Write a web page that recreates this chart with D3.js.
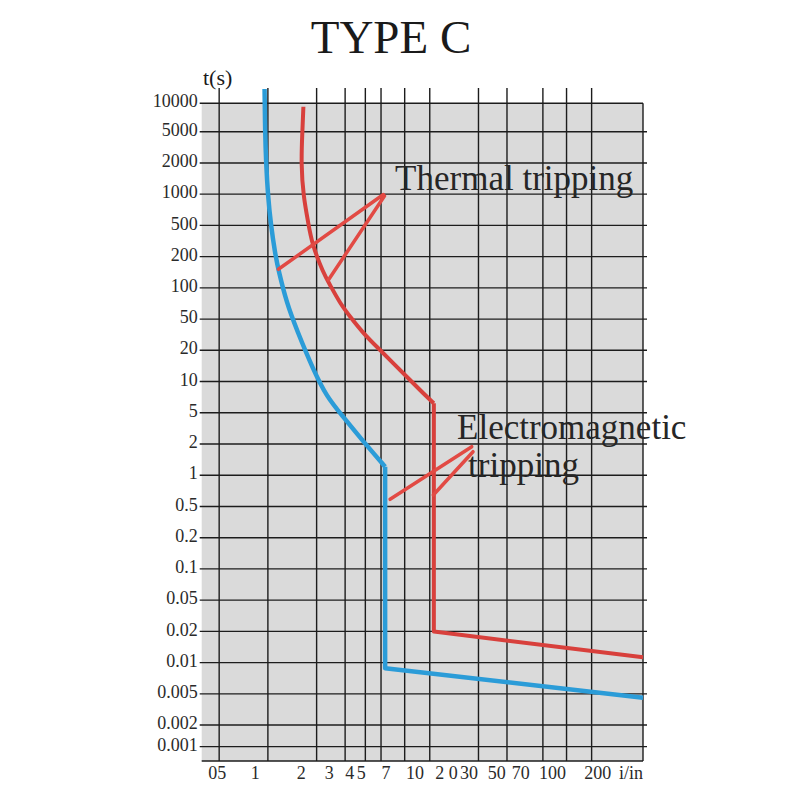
<!DOCTYPE html>
<html><head><meta charset="utf-8">
<script src="https://cdn.jsdelivr.net/npm/d3@7"></script>
<style>
body{margin:0;background:#fff}
text{font-family:"Liberation Serif","Times New Roman",serif}
</style>
</head><body>
<svg id="c" width="800" height="800"></svg>
<script>
// ---------- data ----------
const title = "TYPE C";
const yAxisTitle = "t(s)";
const yTickValues = [10000,5000,2000,1000,500,200,100,50,20,10,5,2,1,0.5,0.2,0.1,0.05,0.02,0.01,0.005,0.002,0.001];
const yTickLabels = ["10000","5000","2000","1000","500","200","100","50","20","10","5","2","1","0.5","0.2","0.1","0.05","0.02","0.01","0.005","0.002","0.001"];
const xGridValues = [0.5,1,2,3,4,5,7,10,20,30,50,70,100];
const xTickLabels = ["05","1","2","3","4","5","7","10","2 0","30","50","70","100","200","i/in"];
// where each printed label sits along the I/In axis
const xTickLabelAt = [0.487,0.834,1.61,2.39,3.2,3.78,5.36,8.11,12.7,17.5,25.9,36.5,57.4,109,175];
const xDomain = [0.39, 207.7];

// lower (blue) curve: I/In and t(s)
const blueThermalI = [0.954,0.961,0.975,1.0,1.042,1.108,1.161,1.308,1.509,1.91,2.311,2.859,3.89,5.3];
const blueThermalT = [14180,5000,1984,981,512,220,148.6,71,36.3,12.9,7.14,4.68,2.14,1.209];
const blueMagI = [5.3,5.3,207.7];
const blueMagT = [1.209,0.00882,0.00447];

// upper (red) curve
const redThermalI = [1.657,1.633,1.603,1.657,1.779,1.867,2.202,2.423,2.792,3.22,3.89,4.706,5.96,7.554,9.58,10.6];
const redThermalT = [9200,5000,1984,945,524,296,138,106.5,71,52.7,32.9,22.2,15,10.35,7.14,6.17];
const redMagI = [10.6,10.6,207.7];
const redMagT = [6.17,0.0199,0.01125];

// annotation pointers [I1,t1,I2,t2]
const thermalPointers = [[5.17,992,1.161,151],[5.25,960,2.364,119]];
const magPointers = [[18.17,1.884,5.687,0.586],[18.51,1.686,10.52,0.645]];
const thermalLabel = {text:"Thermal tripping", I:6.11, t:1097};
const magLabel1 = {text:"Electromagnetic", I:14.75, t:2.296};
const magLabel2 = {text:"tripping", I:17.25, t:0.961};

// ---------- layout ----------
const plotLeft = 201.7, plotRight = 643;
const yTop = 103.3, yFirstGap = 28.4, yStep = 31.23, yLastGap = 21.6, yBottom = 761;
const gridTop = 88;
const blue = "#2b9cd8", red = "#d8403c", redPtr = "#e24a44", ink = "#1c1c1c";

const svg = d3.select("#c");

const x = d3.scaleLog().domain(xDomain).range([plotLeft, plotRight]);
const n = yTickValues.length;
const yRange = yTickValues.map((d,i) => i === 0 ? yTop
  : i === n-1 ? yTop + yFirstGap + (n-3)*yStep + yLastGap
  : yTop + yFirstGap + (i-1)*yStep);
const yLin = d3.scaleLinear().domain(yTickValues.map(Math.log10)).range(yRange);
const y = t => yLin(Math.log10(t));

// plot background
svg.append("rect").attr("x", plotLeft).attr("y", yTop)
  .attr("width", plotRight - plotLeft).attr("height", yBottom - yTop)
  .attr("fill", "#dadada");

// vertical grid lines
svg.append("g").selectAll("line").data(xGridValues).join("line")
  .attr("x1", d => x(d)).attr("x2", d => x(d))
  .attr("y1", gridTop).attr("y2", yBottom)
  .attr("stroke", ink).attr("stroke-width", 1.4);

// horizontal grid lines
svg.append("g").selectAll("line").data(yTickValues).join("line")
  .attr("x1", plotLeft - 2).attr("x2", (d,i) => i === 0 ? plotRight : plotRight + 4)
  .attr("y1", d => y(d)).attr("y2", d => y(d))
  .attr("stroke", ink).attr("stroke-width", 1.4);

// right and bottom edges
svg.append("line").attr("x1", plotRight).attr("x2", plotRight).attr("y1", yTop).attr("y2", yBottom)
  .attr("stroke", ink).attr("stroke-width", 1.4);
svg.append("line").attr("x1", plotLeft).attr("x2", plotRight).attr("y1", yBottom).attr("y2", yBottom)
  .attr("stroke", ink).attr("stroke-width", 1.4);

// y tick labels
svg.append("g").selectAll("text").data(yTickValues).join("text")
  .attr("x", plotLeft - 4).attr("y", d => y(d))
  .attr("text-anchor", "end").attr("dominant-baseline", "middle")
  .attr("font-size", 18).attr("fill", "#2a2a2a")
  .text((d,i) => yTickLabels[i]);

// x tick labels
svg.append("g").selectAll("text").data(xTickLabels).join("text")
  .attr("x", (d,i) => x(xTickLabelAt[i])).attr("y", yBottom + 18)
  .attr("text-anchor", "middle")
  .attr("font-size", 18).attr("fill", "#2a2a2a")
  .text(d => d);

// titles
svg.append("text").attr("x", 391).attr("y", 53).attr("text-anchor", "middle")
  .attr("font-size", 47).attr("fill", "#1a1a1a").text(title);
svg.append("text").attr("x", 203).attr("y", 85)
  .attr("font-size", 22).attr("fill", "#1a1a1a").text(yAxisTitle);

// curves
const smooth = d3.line().x(d => x(d[0])).y(d => y(d[1])).curve(d3.curveBasis);
const straight = d3.line().x(d => x(d[0])).y(d => y(d[1]));
function drawCurve(I, T, MI, MT, color, w) {
  svg.append("path").attr("d", smooth(I.map((v,i) => [v, T[i]])))
    .attr("fill", "none").attr("stroke", color).attr("stroke-width", w).attr("stroke-linejoin", "round");
  svg.append("path").attr("d", straight(MI.map((v,i) => [v, MT[i]])))
    .attr("fill", "none").attr("stroke", color).attr("stroke-width", w).attr("stroke-linejoin", "round");
}
drawCurve(blueThermalI, blueThermalT, blueMagI, blueMagT, blue, 4.5);
drawCurve(redThermalI, redThermalT, redMagI, redMagT, red, 4);

// pointers
svg.append("g").selectAll("line").data(thermalPointers.concat(magPointers)).join("line")
  .attr("x1", d => x(d[0])).attr("y1", d => y(d[1]))
  .attr("x2", d => x(d[2])).attr("y2", d => y(d[3]))
  .attr("stroke", redPtr).attr("stroke-width", 3.5).attr("stroke-linecap", "round");

// annotation labels
[thermalLabel, magLabel1, magLabel2].forEach(l => {
  svg.append("text").attr("x", x(l.I)).attr("y", y(l.t))
    .attr("font-size", 35).attr("fill", "#262626").text(l.text);
});
</script>
</body></html>
